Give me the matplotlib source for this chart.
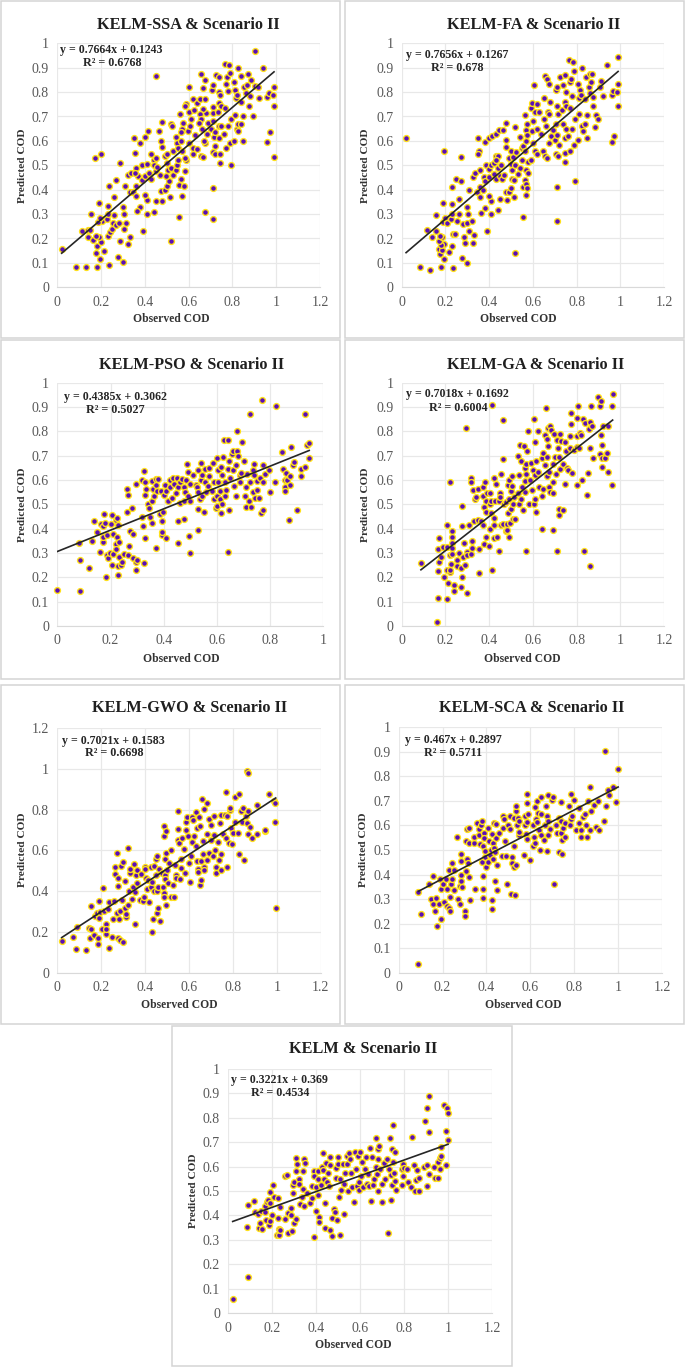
import matplotlib
matplotlib.use("Agg")
import matplotlib.pyplot as plt
from matplotlib.patches import Rectangle
from matplotlib.ticker import MultipleLocator, FormatStrFormatter

W, H = 685, 1367

ssa_pts = [(0.02,0.155),(0.085,0.083),(0.13,0.082),(0.18,0.082),(0.235,0.09),(0.275,0.125),(0.3,0.105),(0.195,0.118),(0.175,0.14),(0.215,0.148),(0.18,0.17),(0.285,0.188),(0.2,0.187),(0.325,0.177),(0.33,0.208),(0.115,0.23),(0.14,0.235),(0.15,0.235),(0.14,0.205),(0.165,0.193),(0.19,0.205),(0.175,0.212),(0.23,0.21),(0.24,0.228),(0.25,0.24),(0.255,0.262),(0.27,0.255),(0.28,0.262),(0.305,0.24),(0.315,0.263),(0.205,0.27),(0.185,0.268),(0.195,0.285),(0.225,0.28),(0.155,0.3),(0.23,0.3),(0.23,0.335),(0.19,0.345),(0.26,0.295),(0.3,0.33),(0.305,0.3),(0.26,0.37),(0.235,0.415),(0.27,0.44),(0.17,0.53),(0.2,0.545),(0.285,0.51),(0.31,0.415),(0.325,0.46),(0.335,0.47),(0.33,0.39),(0.345,0.39),(0.36,0.375),(0.36,0.415),(0.37,0.455),(0.36,0.49),(0.355,0.47),(0.38,0.33),(0.365,0.313),(0.39,0.232),(0.41,0.3),(0.44,0.31),(0.41,0.357),(0.45,0.355),(0.4,0.38),(0.48,0.355),(0.385,0.44),(0.4,0.455),(0.385,0.5),(0.41,0.505),(0.43,0.545),(0.44,0.52),(0.45,0.53),(0.42,0.47),(0.43,0.445),(0.45,0.475),(0.44,0.5),(0.455,0.495),(0.47,0.46),(0.475,0.395),(0.49,0.4),(0.5,0.415),(0.51,0.435),(0.515,0.372),(0.555,0.288),(0.52,0.19),(0.35,0.61),(0.355,0.55),(0.38,0.59),(0.4,0.615),(0.415,0.64),(0.465,0.64),(0.48,0.677),(0.475,0.6),(0.48,0.575),(0.45,0.865),(0.49,0.54),(0.5,0.545),(0.5,0.51),(0.505,0.48),(0.495,0.455),(0.52,0.49),(0.53,0.46),(0.54,0.48),(0.545,0.5),(0.53,0.56),(0.52,0.67),(0.525,0.66),(0.54,0.618),(0.545,0.59),(0.55,0.57),(0.55,0.52),(0.555,0.42),(0.57,0.375),(0.565,0.445),(0.58,0.415),(0.585,0.478),(0.59,0.52),(0.585,0.53),(0.57,0.56),(0.565,0.6),(0.57,0.65),(0.56,0.71),(0.575,0.675),(0.565,0.635),(0.59,0.75),(0.585,0.745),(0.6,0.82),(0.6,0.72),(0.595,0.64),(0.6,0.59),(0.605,0.66),(0.61,0.69),(0.62,0.545),(0.62,0.57),(0.625,0.725),(0.62,0.77),(0.64,0.755),(0.65,0.77),(0.655,0.875),(0.665,0.815),(0.675,0.848),(0.675,0.77),(0.68,0.715),(0.665,0.73),(0.65,0.71),(0.655,0.69),(0.645,0.675),(0.63,0.625),(0.64,0.565),(0.655,0.54),(0.665,0.535),(0.66,0.65),(0.675,0.59),(0.685,0.63),(0.69,0.675),(0.67,0.6),(0.7,0.65),(0.71,0.68),(0.71,0.555),(0.715,0.615),(0.72,0.58),(0.72,0.545),(0.71,0.405),(0.675,0.31),(0.71,0.28),(0.705,0.81),(0.71,0.83),(0.71,0.74),(0.71,0.715),(0.72,0.635),(0.725,0.87),(0.735,0.72),(0.74,0.86),(0.74,0.8),(0.745,0.79),(0.74,0.755),(0.75,0.745),(0.74,0.66),(0.75,0.66),(0.74,0.61),(0.745,0.548),(0.745,0.51),(0.76,0.63),(0.765,0.915),(0.765,0.735),(0.77,0.57),(0.77,0.835),(0.775,0.86),(0.78,0.805),(0.785,0.91),(0.79,0.88),(0.78,0.66),(0.79,0.59),(0.795,0.69),(0.795,0.5),(0.805,0.6),(0.81,0.705),(0.805,0.84),(0.81,0.81),(0.815,0.775),(0.82,0.79),(0.82,0.65),(0.825,0.64),(0.825,0.67),(0.825,0.9),(0.84,0.76),(0.84,0.865),(0.84,0.67),(0.85,0.6),(0.85,0.7),(0.855,0.82),(0.86,0.795),(0.865,0.83),(0.87,0.875),(0.875,0.745),(0.88,0.785),(0.885,0.85),(0.895,0.7),(0.905,0.97),(0.905,0.825),(0.915,0.82),(0.92,0.775),(0.94,0.9),(0.96,0.595),(0.96,0.78),(0.97,0.635),(0.965,0.795),(0.985,0.79),(0.99,0.82),(0.99,0.745),(0.99,0.535)]

fa_pts = [(0.02,0.61),(0.085,0.083),(0.13,0.072),(0.18,0.083),(0.235,0.08),(0.275,0.122),(0.3,0.1),(0.195,0.118),(0.175,0.135),(0.17,0.155),(0.185,0.153),(0.215,0.143),(0.23,0.17),(0.195,0.178),(0.18,0.175),(0.17,0.19),(0.185,0.208),(0.175,0.21),(0.14,0.208),(0.115,0.235),(0.155,0.232),(0.19,0.268),(0.2,0.282),(0.205,0.265),(0.225,0.278),(0.23,0.3),(0.155,0.297),(0.19,0.347),(0.23,0.34),(0.26,0.36),(0.26,0.3),(0.255,0.27),(0.28,0.26),(0.3,0.265),(0.3,0.33),(0.305,0.3),(0.32,0.27),(0.31,0.232),(0.33,0.213),(0.285,0.205),(0.29,0.183),(0.325,0.18),(0.235,0.218),(0.245,0.22),(0.232,0.413),(0.248,0.445),(0.27,0.437),(0.195,0.56),(0.27,0.533),(0.31,0.4),(0.325,0.45),(0.335,0.47),(0.345,0.39),(0.36,0.41),(0.36,0.372),(0.37,0.4),(0.365,0.305),(0.38,0.325),(0.39,0.23),(0.41,0.3),(0.44,0.317),(0.41,0.355),(0.45,0.36),(0.4,0.375),(0.48,0.358),(0.475,0.39),(0.49,0.39),(0.5,0.405),(0.515,0.37),(0.555,0.287),(0.52,0.142),(0.35,0.61),(0.355,0.56),(0.35,0.545),(0.36,0.48),(0.38,0.595),(0.4,0.61),(0.415,0.62),(0.43,0.63),(0.445,0.645),(0.465,0.645),(0.478,0.672),(0.475,0.605),(0.478,0.575),(0.375,0.45),(0.38,0.435),(0.4,0.45),(0.385,0.5),(0.4,0.485),(0.41,0.5),(0.42,0.51),(0.43,0.54),(0.44,0.54),(0.43,0.52),(0.42,0.465),(0.43,0.445),(0.45,0.455),(0.44,0.49),(0.455,0.5),(0.46,0.445),(0.47,0.46),(0.49,0.53),(0.5,0.56),(0.5,0.505),(0.505,0.48),(0.505,0.445),(0.515,0.44),(0.51,0.535),(0.52,0.5),(0.53,0.465),(0.54,0.49),(0.525,0.555),(0.52,0.658),(0.54,0.615),(0.55,0.57),(0.55,0.52),(0.555,0.58),(0.555,0.41),(0.565,0.44),(0.57,0.425),(0.57,0.38),(0.575,0.405),(0.57,0.48),(0.58,0.47),(0.58,0.515),(0.59,0.52),(0.565,0.56),(0.57,0.6),(0.565,0.705),(0.57,0.645),(0.575,0.67),(0.575,0.625),(0.59,0.735),(0.595,0.757),(0.605,0.83),(0.6,0.68),(0.595,0.64),(0.6,0.59),(0.61,0.72),(0.62,0.65),(0.62,0.75),(0.63,0.72),(0.635,0.63),(0.61,0.56),(0.62,0.547),(0.645,0.56),(0.65,0.775),(0.65,0.69),(0.655,0.865),(0.665,0.855),(0.67,0.72),(0.655,0.54),(0.665,0.53),(0.66,0.66),(0.675,0.835),(0.68,0.76),(0.675,0.71),(0.675,0.59),(0.685,0.62),(0.69,0.645),(0.7,0.605),(0.705,0.67),(0.705,0.545),(0.71,0.625),(0.715,0.54),(0.72,0.585),(0.71,0.745),(0.715,0.71),(0.712,0.413),(0.712,0.27),(0.705,0.81),(0.71,0.82),(0.725,0.86),(0.735,0.725),(0.74,0.83),(0.745,0.87),(0.745,0.76),(0.75,0.8),(0.75,0.745),(0.74,0.67),(0.75,0.65),(0.745,0.61),(0.745,0.55),(0.748,0.513),(0.76,0.62),(0.765,0.93),(0.77,0.735),(0.77,0.56),(0.77,0.84),(0.775,0.855),(0.78,0.785),(0.785,0.925),(0.79,0.885),(0.78,0.65),(0.79,0.585),(0.795,0.69),(0.795,0.437),(0.805,0.605),(0.81,0.71),(0.805,0.835),(0.81,0.775),(0.815,0.81),(0.82,0.79),(0.825,0.66),(0.83,0.64),(0.825,0.9),(0.84,0.67),(0.84,0.77),(0.845,0.86),(0.85,0.61),(0.85,0.705),(0.855,0.82),(0.86,0.795),(0.86,0.875),(0.865,0.84),(0.87,0.875),(0.875,0.745),(0.875,0.78),(0.885,0.655),(0.89,0.705),(0.9,0.69),(0.905,0.82),(0.91,0.845),(0.92,0.785),(0.94,0.91),(0.96,0.597),(0.96,0.79),(0.97,0.62),(0.965,0.805),(0.985,0.8),(0.99,0.835),(0.99,0.745),(0.99,0.945)]

pso_pts = [(0,0.148),(0.087,0.145),(0.087,0.27),(0.083,0.342),(0.12,0.24),(0.13,0.35),(0.137,0.432),(0.15,0.385),(0.16,0.305),(0.165,0.42),(0.17,0.345),(0.17,0.41),(0.17,0.365),(0.175,0.46),(0.18,0.425),(0.185,0.375),(0.183,0.203),(0.185,0.29),(0.19,0.28),(0.197,0.3),(0.2,0.42),(0.205,0.25),(0.205,0.455),(0.21,0.38),(0.21,0.295),(0.22,0.335),(0.22,0.315),(0.22,0.435),(0.225,0.365),(0.225,0.445),(0.228,0.208),(0.23,0.248),(0.23,0.415),(0.232,0.345),(0.232,0.285),(0.24,0.25),(0.245,0.265),(0.25,0.295),(0.262,0.565),(0.262,0.47),(0.265,0.29),(0.265,0.54),(0.27,0.33),(0.275,0.39),(0.28,0.483),(0.285,0.28),(0.285,0.38),(0.295,0.23),(0.295,0.265),(0.3,0.272),(0.295,0.585),(0.32,0.6),(0.32,0.447),(0.322,0.41),(0.325,0.26),(0.33,0.36),(0.327,0.638),(0.33,0.59),(0.33,0.537),(0.335,0.565),(0.34,0.5),(0.345,0.487),(0.35,0.45),(0.355,0.595),(0.355,0.515),(0.355,0.425),(0.36,0.565),(0.365,0.535),(0.37,0.32),(0.37,0.605),(0.37,0.58),(0.375,0.555),(0.38,0.603),(0.385,0.46),(0.39,0.555),(0.395,0.375),(0.395,0.387),(0.395,0.43),(0.398,0.47),(0.4,0.54),(0.405,0.58),(0.41,0.555),(0.41,0.36),(0.415,0.515),(0.425,0.6),(0.425,0.57),(0.43,0.525),(0.435,0.61),(0.44,0.585),(0.445,0.545),(0.45,0.61),(0.452,0.43),(0.455,0.34),(0.455,0.57),(0.46,0.59),(0.46,0.505),(0.47,0.605),(0.475,0.515),(0.475,0.57),(0.476,0.44),(0.48,0.55),(0.485,0.6),(0.487,0.665),(0.49,0.635),(0.49,0.535),(0.495,0.37),(0.497,0.298),(0.5,0.585),(0.5,0.515),(0.51,0.62),(0.52,0.58),(0.525,0.57),(0.53,0.48),(0.53,0.393),(0.53,0.55),(0.53,0.64),(0.535,0.52),(0.54,0.67),(0.54,0.6),(0.545,0.62),(0.545,0.535),(0.552,0.47),(0.555,0.59),(0.555,0.645),(0.56,0.55),(0.565,0.575),(0.57,0.615),(0.57,0.65),(0.58,0.555),(0.585,0.67),(0.59,0.52),(0.59,0.59),(0.595,0.485),(0.6,0.69),(0.6,0.535),(0.6,0.495),(0.605,0.64),(0.605,0.59),(0.61,0.555),(0.61,0.52),(0.615,0.655),(0.615,0.465),(0.62,0.62),(0.62,0.5),(0.622,0.695),(0.625,0.765),(0.63,0.59),(0.63,0.535),(0.635,0.56),(0.64,0.765),(0.64,0.645),(0.643,0.303),(0.645,0.68),(0.645,0.477),(0.65,0.61),(0.655,0.705),(0.66,0.72),(0.66,0.64),(0.665,0.575),(0.67,0.66),(0.67,0.535),(0.675,0.8),(0.675,0.72),(0.68,0.7),(0.685,0.62),(0.685,0.59),(0.69,0.63),(0.695,0.755),(0.7,0.678),(0.705,0.535),(0.71,0.57),(0.71,0.49),(0.715,0.625),(0.72,0.515),(0.725,0.59),(0.725,0.87),(0.73,0.49),(0.735,0.55),(0.735,0.64),(0.74,0.665),(0.74,0.62),(0.745,0.525),(0.75,0.595),(0.75,0.56),(0.762,0.61),(0.76,0.525),(0.765,0.465),(0.77,0.93),(0.775,0.59),(0.775,0.477),(0.775,0.66),(0.78,0.625),(0.795,0.64),(0.8,0.55),(0.82,0.59),(0.822,0.905),(0.845,0.715),(0.85,0.645),(0.855,0.6),(0.855,0.57),(0.855,0.555),(0.86,0.63),(0.865,0.6),(0.87,0.437),(0.873,0.58),(0.875,0.615),(0.88,0.735),(0.885,0.66),(0.89,0.675),(0.9,0.475),(0.915,0.645),(0.917,0.615),(0.93,0.655),(0.933,0.87),(0.94,0.745),(0.945,0.69),(0.947,0.752)]

ga_pts = [(0.088,0.258),(0.163,0.015),(0.167,0.315),(0.168,0.225),(0.168,0.115),(0.17,0.363),(0.172,0.262),(0.18,0.285),(0.19,0.325),(0.195,0.2),(0.205,0.23),(0.205,0.325),(0.205,0.417),(0.208,0.113),(0.213,0.178),(0.22,0.22),(0.22,0.29),(0.222,0.232),(0.223,0.59),(0.225,0.255),(0.228,0.39),(0.228,0.365),(0.228,0.34),(0.23,0.32),(0.232,0.295),(0.24,0.17),(0.24,0.145),(0.255,0.27),(0.255,0.245),(0.26,0.3),(0.27,0.24),(0.272,0.16),(0.275,0.2),(0.28,0.282),(0.278,0.41),(0.278,0.493),(0.285,0.34),(0.29,0.25),(0.293,0.815),(0.297,0.135),(0.297,0.305),(0.3,0.29),(0.31,0.415),(0.315,0.295),(0.315,0.61),(0.318,0.59),(0.32,0.35),(0.32,0.32),(0.325,0.56),(0.33,0.43),(0.335,0.52),(0.34,0.53),(0.35,0.565),(0.35,0.435),(0.353,0.218),(0.353,0.317),(0.365,0.43),(0.37,0.535),(0.37,0.415),(0.37,0.57),(0.375,0.335),(0.375,0.49),(0.38,0.59),(0.385,0.515),(0.385,0.47),(0.385,0.365),(0.39,0.545),(0.4,0.33),(0.405,0.4),(0.405,0.545),(0.405,0.5),(0.41,0.465),(0.41,0.515),(0.413,0.91),(0.415,0.232),(0.42,0.36),(0.42,0.445),(0.42,0.415),(0.42,0.61),(0.425,0.515),(0.43,0.585),(0.435,0.365),(0.445,0.515),(0.447,0.31),(0.45,0.545),(0.452,0.53),(0.455,0.625),(0.455,0.415),(0.463,0.845),(0.465,0.685),(0.465,0.42),(0.47,0.5),(0.475,0.51),(0.475,0.39),(0.48,0.395),(0.48,0.42),(0.485,0.465),(0.488,0.58),(0.49,0.6),(0.49,0.52),(0.493,0.365),(0.495,0.425),(0.5,0.48),(0.5,0.555),(0.505,0.615),(0.505,0.575),(0.51,0.44),(0.51,0.5),(0.515,0.53),(0.52,0.44),(0.53,0.7),(0.53,0.545),(0.535,0.62),(0.535,0.5),(0.54,0.745),(0.545,0.68),(0.545,0.52),(0.55,0.57),(0.553,0.475),(0.56,0.74),(0.565,0.65),(0.565,0.595),(0.565,0.55),(0.57,0.31),(0.57,0.665),(0.57,0.625),(0.575,0.72),(0.58,0.8),(0.582,0.5),(0.585,0.6),(0.59,0.67),(0.595,0.56),(0.6,0.64),(0.605,0.5),(0.607,0.85),(0.61,0.755),(0.61,0.62),(0.612,0.52),(0.615,0.68),(0.615,0.47),(0.625,0.635),(0.625,0.8),(0.63,0.57),(0.64,0.69),(0.64,0.535),(0.64,0.4),(0.645,0.71),(0.648,0.565),(0.655,0.785),(0.655,0.66),(0.66,0.895),(0.665,0.695),(0.665,0.615),(0.665,0.77),(0.67,0.815),(0.67,0.74),(0.672,0.57),(0.675,0.635),(0.68,0.82),(0.68,0.55),(0.685,0.805),(0.69,0.665),(0.69,0.59),(0.69,0.545),(0.69,0.395),(0.695,0.79),(0.7,0.695),(0.705,0.625),(0.71,0.765),(0.712,0.31),(0.715,0.73),(0.72,0.695),(0.72,0.455),(0.72,0.48),(0.725,0.79),(0.725,0.645),(0.73,0.76),(0.74,0.665),(0.74,0.475),(0.745,0.755),(0.745,0.585),(0.75,0.72),(0.755,0.65),(0.76,0.64),(0.77,0.73),(0.77,0.78),(0.775,0.875),(0.775,0.83),(0.78,0.63),(0.79,0.725),(0.8,0.855),(0.8,0.78),(0.8,0.735),(0.8,0.58),(0.805,0.905),(0.81,0.73),(0.815,0.795),(0.82,0.785),(0.825,0.6),(0.83,0.85),(0.84,0.835),(0.836,0.31),(0.85,0.54),(0.853,0.63),(0.855,0.81),(0.86,0.84),(0.863,0.73),(0.863,0.245),(0.865,0.905),(0.87,0.82),(0.875,0.69),(0.9,0.94),(0.905,0.905),(0.908,0.705),(0.91,0.925),(0.91,0.785),(0.915,0.745),(0.915,0.69),(0.915,0.655),(0.92,0.82),(0.93,0.69),(0.94,0.71),(0.945,0.635),(0.945,0.82),(0.96,0.578),(0.96,0.905),(0.965,0.955)]

gwo_pts = [(0.02,0.155),(0.07,0.177),(0.085,0.115),(0.09,0.222),(0.13,0.11),(0.145,0.22),(0.15,0.17),(0.155,0.215),(0.155,0.325),(0.165,0.183),(0.17,0.28),(0.18,0.295),(0.185,0.14),(0.185,0.17),(0.19,0.27),(0.19,0.35),(0.195,0.3),(0.205,0.215),(0.208,0.417),(0.215,0.305),(0.22,0.19),(0.22,0.24),(0.222,0.215),(0.23,0.31),(0.235,0.12),(0.235,0.345),(0.25,0.175),(0.255,0.265),(0.26,0.35),(0.265,0.485),(0.265,0.52),(0.27,0.585),(0.27,0.295),(0.275,0.465),(0.275,0.17),(0.275,0.425),(0.28,0.265),(0.285,0.305),(0.285,0.16),(0.29,0.525),(0.295,0.355),(0.3,0.15),(0.3,0.545),(0.31,0.315),(0.31,0.45),(0.315,0.275),(0.315,0.29),(0.32,0.61),(0.32,0.33),(0.325,0.4),(0.33,0.49),(0.33,0.51),(0.34,0.36),(0.345,0.42),(0.35,0.535),(0.355,0.395),(0.355,0.24),(0.36,0.48),(0.365,0.44),(0.365,0.505),(0.375,0.355),(0.38,0.485),(0.39,0.35),(0.395,0.37),(0.4,0.52),(0.4,0.51),(0.405,0.465),(0.41,0.41),(0.415,0.455),(0.42,0.345),(0.425,0.52),(0.425,0.42),(0.43,0.2),(0.43,0.445),(0.435,0.265),(0.44,0.525),(0.44,0.4),(0.45,0.56),(0.45,0.48),(0.455,0.57),(0.455,0.295),(0.455,0.4),(0.46,0.42),(0.46,0.315),(0.465,0.51),(0.47,0.255),(0.475,0.49),(0.48,0.42),(0.485,0.39),(0.485,0.37),(0.487,0.72),(0.487,0.67),(0.49,0.48),(0.49,0.46),(0.49,0.56),(0.495,0.585),(0.495,0.33),(0.497,0.695),(0.5,0.505),(0.505,0.44),(0.51,0.54),(0.52,0.6),(0.52,0.37),(0.525,0.43),(0.53,0.37),(0.535,0.53),(0.54,0.48),(0.54,0.465),(0.55,0.705),(0.55,0.65),(0.55,0.795),(0.555,0.635),(0.56,0.46),(0.565,0.56),(0.565,0.515),(0.57,0.66),(0.575,0.605),(0.58,0.49),(0.585,0.74),(0.585,0.7),(0.59,0.765),(0.595,0.67),(0.6,0.54),(0.605,0.445),(0.61,0.57),(0.615,0.765),(0.615,0.64),(0.62,0.75),(0.625,0.67),(0.63,0.79),(0.63,0.62),(0.635,0.71),(0.635,0.55),(0.64,0.51),(0.64,0.495),(0.645,0.765),(0.648,0.72),(0.65,0.43),(0.655,0.55),(0.655,0.455),(0.66,0.85),(0.665,0.645),(0.665,0.58),(0.67,0.805),(0.67,0.52),(0.67,0.505),(0.68,0.83),(0.68,0.68),(0.68,0.555),(0.69,0.755),(0.69,0.585),(0.7,0.65),(0.7,0.725),(0.71,0.57),(0.715,0.77),(0.715,0.675),(0.72,0.6),(0.725,0.52),(0.725,0.49),(0.73,0.64),(0.735,0.555),(0.74,0.735),(0.745,0.775),(0.745,0.58),(0.745,0.505),(0.755,0.68),(0.765,0.775),(0.77,0.66),(0.77,0.885),(0.775,0.77),(0.775,0.52),(0.78,0.635),(0.785,0.8),(0.785,0.81),(0.79,0.71),(0.795,0.63),(0.8,0.685),(0.81,0.86),(0.81,0.74),(0.83,0.875),(0.825,0.685),(0.83,0.58),(0.835,0.795),(0.84,0.74),(0.845,0.81),(0.85,0.555),(0.86,0.77),(0.865,0.735),(0.865,0.99),(0.87,0.98),(0.87,0.795),(0.87,0.68),(0.88,0.715),(0.885,0.66),(0.91,0.82),(0.91,0.68),(0.945,0.695),(0.945,0.7),(0.965,0.875),(0.985,0.84),(0.99,0.83),(0.99,0.74),(0.995,0.315)]

sca_pts = [(0.09,0.33),(0.09,0.035),(0.1,0.24),(0.14,0.36),(0.145,0.3),(0.155,0.28),(0.155,0.395),(0.165,0.25),(0.17,0.305),(0.173,0.19),(0.185,0.28),(0.19,0.38),(0.195,0.34),(0.195,0.22),(0.2,0.36),(0.205,0.29),(0.215,0.38),(0.22,0.34),(0.22,0.27),(0.23,0.42),(0.23,0.265),(0.235,0.25),(0.235,0.31),(0.24,0.36),(0.245,0.38),(0.245,0.445),(0.25,0.42),(0.25,0.335),(0.265,0.555),(0.27,0.3),(0.28,0.355),(0.28,0.28),(0.285,0.4),(0.285,0.375),(0.285,0.455),(0.285,0.485),(0.29,0.35),(0.3,0.25),(0.3,0.23),(0.31,0.585),(0.305,0.535),(0.305,0.415),(0.31,0.465),(0.315,0.445),(0.32,0.53),(0.32,0.39),(0.32,0.59),(0.325,0.295),(0.345,0.53),(0.345,0.555),(0.35,0.34),(0.355,0.61),(0.365,0.56),(0.365,0.585),(0.37,0.525),(0.375,0.6),(0.38,0.62),(0.38,0.45),(0.385,0.515),(0.385,0.395),(0.385,0.34),(0.385,0.305),(0.39,0.57),(0.39,0.55),(0.395,0.47),(0.395,0.495),(0.4,0.43),(0.405,0.45),(0.405,0.59),(0.41,0.535),(0.415,0.48),(0.42,0.5),(0.425,0.565),(0.425,0.295),(0.425,0.26),(0.43,0.465),(0.43,0.53),(0.435,0.51),(0.435,0.61),(0.44,0.375),(0.44,0.49),(0.445,0.605),(0.445,0.55),(0.45,0.44),(0.45,0.335),(0.455,0.57),(0.47,0.475),(0.475,0.59),(0.475,0.64),(0.48,0.625),(0.485,0.535),(0.49,0.475),(0.495,0.36),(0.5,0.6),(0.505,0.585),(0.505,0.64),(0.51,0.32),(0.515,0.47),(0.515,0.445),(0.525,0.63),(0.525,0.515),(0.525,0.43),(0.53,0.315),(0.535,0.44),(0.535,0.66),(0.535,0.68),(0.54,0.6),(0.545,0.63),(0.55,0.56),(0.55,0.575),(0.55,0.62),(0.57,0.48),(0.575,0.64),(0.575,0.6),(0.58,0.565),(0.585,0.545),(0.585,0.615),(0.585,0.73),(0.585,0.69),(0.59,0.645),(0.6,0.46),(0.61,0.515),(0.61,0.6),(0.615,0.555),(0.62,0.675),(0.62,0.53),(0.625,0.625),(0.63,0.615),(0.63,0.7),(0.635,0.65),(0.64,0.58),(0.645,0.5),(0.65,0.715),(0.65,0.56),(0.65,0.645),(0.66,0.54),(0.665,0.6),(0.67,0.68),(0.675,0.495),(0.675,0.64),(0.68,0.62),(0.68,0.56),(0.68,0.725),(0.69,0.585),(0.7,0.705),(0.705,0.715),(0.71,0.36),(0.715,0.6),(0.72,0.57),(0.73,0.63),(0.73,0.49),(0.74,0.695),(0.74,0.57),(0.745,0.54),(0.745,0.485),(0.74,0.62),(0.75,0.59),(0.76,0.555),(0.76,0.61),(0.775,0.68),(0.78,0.6),(0.785,0.625),(0.785,0.73),(0.79,0.64),(0.8,0.705),(0.81,0.58),(0.82,0.61),(0.82,0.67),(0.83,0.555),(0.83,0.58),(0.84,0.635),(0.85,0.645),(0.855,0.6),(0.86,0.555),(0.865,0.7),(0.87,0.755),(0.87,0.58),(0.875,0.66),(0.89,0.685),(0.9,0.595),(0.91,0.7),(0.915,0.58),(0.935,0.62),(0.94,0.905),(0.945,0.68),(0.955,0.745),(0.96,0.725),(0.975,0.755),(0.99,0.695),(1.0,0.83)]

kelm_pts = [(0.02,0.058),(0.09,0.148),(0.087,0.352),(0.09,0.443),(0.115,0.46),(0.12,0.415),(0.135,0.405),(0.14,0.35),(0.145,0.37),(0.15,0.42),(0.155,0.345),(0.165,0.415),(0.165,0.44),(0.17,0.38),(0.175,0.455),(0.18,0.465),(0.185,0.36),(0.19,0.378),(0.19,0.495),(0.19,0.45),(0.2,0.4),(0.205,0.525),(0.21,0.475),(0.22,0.32),(0.225,0.39),(0.225,0.47),(0.23,0.345),(0.23,0.32),(0.235,0.435),(0.235,0.34),(0.26,0.56),(0.26,0.385),(0.265,0.565),(0.27,0.33),(0.27,0.41),(0.285,0.43),(0.285,0.4),(0.29,0.335),(0.295,0.49),(0.295,0.525),(0.3,0.37),(0.3,0.535),(0.31,0.385),(0.31,0.58),(0.31,0.635),(0.313,0.61),(0.32,0.55),(0.32,0.53),(0.325,0.445),(0.335,0.475),(0.34,0.51),(0.34,0.58),(0.345,0.44),(0.345,0.63),(0.35,0.615),(0.36,0.49),(0.37,0.45),(0.38,0.52),(0.38,0.47),(0.39,0.58),(0.39,0.56),(0.39,0.31),(0.4,0.515),(0.4,0.42),(0.41,0.485),(0.41,0.55),(0.41,0.58),(0.415,0.395),(0.415,0.375),(0.42,0.525),(0.425,0.6),(0.43,0.585),(0.43,0.655),(0.435,0.55),(0.44,0.35),(0.44,0.45),(0.445,0.615),(0.45,0.535),(0.455,0.575),(0.46,0.52),(0.465,0.64),(0.465,0.605),(0.465,0.34),(0.47,0.315),(0.47,0.39),(0.48,0.425),(0.485,0.415),(0.49,0.555),(0.49,0.595),(0.495,0.38),(0.5,0.64),(0.5,0.61),(0.505,0.475),(0.51,0.32),(0.51,0.55),(0.515,0.505),(0.52,0.61),(0.525,0.405),(0.525,0.53),(0.53,0.575),(0.54,0.645),(0.54,0.61),(0.545,0.5),(0.55,0.655),(0.555,0.63),(0.56,0.575),(0.565,0.515),(0.57,0.455),(0.575,0.66),(0.58,0.59),(0.585,0.52),(0.59,0.645),(0.595,0.505),(0.595,0.535),(0.6,0.66),(0.605,0.56),(0.61,0.62),(0.615,0.515),(0.62,0.59),(0.625,0.64),(0.63,0.53),(0.635,0.57),(0.64,0.52),(0.645,0.675),(0.65,0.46),(0.655,0.64),(0.66,0.525),(0.665,0.55),(0.67,0.6),(0.67,0.715),(0.675,0.57),(0.68,0.67),(0.68,0.63),(0.68,0.5),(0.685,0.685),(0.69,0.59),(0.7,0.53),(0.7,0.455),(0.71,0.615),(0.715,0.55),(0.72,0.63),(0.725,0.33),(0.73,0.59),(0.735,0.715),(0.74,0.565),(0.74,0.465),(0.745,0.67),(0.745,0.525),(0.75,0.62),(0.75,0.77),(0.755,0.575),(0.76,0.54),(0.76,0.66),(0.765,0.505),(0.79,0.59),(0.79,0.525),(0.795,0.61),(0.795,0.56),(0.8,0.595),(0.815,0.59),(0.82,0.535),(0.83,0.515),(0.835,0.72),(0.845,0.605),(0.85,0.5),(0.855,0.545),(0.86,0.585),(0.87,0.555),(0.87,0.5),(0.89,0.6),(0.895,0.785),(0.905,0.84),(0.905,0.52),(0.905,0.605),(0.915,0.89),(0.915,0.74),(0.915,0.57),(0.935,0.6),(0.94,0.555),(0.955,0.555),(0.955,0.62),(0.965,0.59),(0.965,0.635),(0.97,0.645),(0.97,0.68),(0.98,0.85),(0.99,0.745),(0.99,0.605),(0.995,0.84),(1.0,0.82),(1.0,0.71)]

all_pts = [ssa_pts, fa_pts, pso_pts, ga_pts, gwo_pts, sca_pts, kelm_pts]
titles = ["KELM-SSA & Scenario II", "KELM-FA & Scenario II", "KELM-PSO & Scenario II",
          "KELM-GA & Scenario II", "KELM-GWO & Scenario II", "KELM-SCA & Scenario II",
          "KELM & Scenario II"]
slopes = [0.7664, 0.7656, 0.4385, 0.7018, 0.7021, 0.467, 0.3221]
intercepts = [0.1243, 0.1267, 0.3062, 0.1692, 0.1583, 0.2897, 0.369]
eq_text = ["y = 0.7664x + 0.1243", "y = 0.7656x + 0.1267", "y = 0.4385x + 0.3062",
           "y = 0.7018x + 0.1692", "y = 0.7021x + 0.1583", "y = 0.467x + 0.2897",
           "y = 0.3221x + 0.369"]
r2_text = ["R² = 0.6768", "R² = 0.678", "R² = 0.5027", "R² = 0.6004", "R² = 0.6698",
           "R² = 0.5711", "R² = 0.4534"]
x_max = [1.2, 1.2, 1, 1.2, 1.2, 1.2, 1.2]
y_max = [1, 1, 1, 1, 1.2, 1, 1]
y_step = [0.1, 0.1, 0.1, 0.1, 0.2, 0.1, 0.1]

# everything below is in pixels of the 685x1367 page
frames = [(1, 1, 340, 338), (345, 1, 684, 338), (1, 340, 340, 679), (345, 340, 684, 679),
          (1, 685, 340, 1024), (345, 685, 684, 1024), (172, 1026, 512, 1366)]
axes_box = [(57.3, 43.3, 320, 287.3), (401.7, 43.3, 664, 287.3), (57.3, 382.7, 323.3, 626),
            (401.7, 382.7, 664, 626), (57.3, 728, 320.7, 972.7), (398.7, 727.3, 662, 972.7),
            (228.3, 1068.7, 492, 1313.3)]
title_xy = [(188, 24.7), (533.3, 24.7), (191.7, 364.7), (535.3, 364.7), (189.3, 708), (532, 708), (362.7, 1049.3)]
xlabel_xy = [(171, 319), (518.7, 319), (181.7, 658.7), (522.3, 658.7), (179, 1004.7), (523.3, 1004.7), (353.3, 1345.3)]
ylabel_xy = [(22.7, 165.7), (366, 165.7), (22.7, 505), (366, 505), (22.7, 849.7), (363.7, 849.7), (194, 1190.7)]
eq_xy = [(60, 50), (405.7, 55), (63.7, 396.7), (405.7, 394.3), (61.7, 740.7), (405, 740), (231.3, 1080)]
r2_xy = [(82.7, 63.3), (431.3, 68.3), (86, 410), (428.7, 407.7), (84.7, 753.3), (424.3, 753.3), (251, 1093.3)]

SERIF = "Liberation Serif"


def fx(px):
    return px / W


def fy(py):
    return 1 - py / H


fig = plt.figure(figsize=(W / 100, H / 100), dpi=100, facecolor="white")

for i in range(7):
    l, t, r, b = frames[i]
    fig.add_artist(Rectangle((fx(l), fy(b)), (r - l) / W, (b - t) / H, transform=fig.transFigure,
                             fill=False, edgecolor="#D4D4D4", linewidth=1.1))

    l, t, r, b = axes_box[i]
    ax = fig.add_axes([fx(l), fy(b), (r - l) / W, (b - t) / H])
    xs = [p[0] for p in all_pts[i]]
    ys = [p[1] for p in all_pts[i]]
    ax.scatter(xs, ys, s=18, c="#5A0FB5", edgecolors="#FFE11A", linewidths=1.0, zorder=3, clip_on=False)
    x_ends = [min(xs), max(xs)]
    ax.plot(x_ends, [slopes[i] * v + intercepts[i] for v in x_ends], color="#262626", lw=1.2, zorder=4)

    ax.set_xlim(0, x_max[i])
    ax.set_ylim(0, y_max[i])
    ax.xaxis.set_major_locator(MultipleLocator(0.2))
    ax.yaxis.set_major_locator(MultipleLocator(y_step[i]))
    ax.xaxis.set_major_formatter(FormatStrFormatter("%g"))
    ax.yaxis.set_major_formatter(FormatStrFormatter("%g"))
    ax.grid(True, color="#E8E8E8", lw=0.9)
    ax.set_axisbelow(True)
    for s in ["top", "right", "left"]:
        ax.spines[s].set_visible(False)
    ax.spines["bottom"].set_color("#D9D9D9")
    ax.tick_params(length=0, labelsize=10, labelcolor="#595959", pad=6)
    for lab in ax.get_xticklabels() + ax.get_yticklabels():
        lab.set_family(SERIF)

    fig.text(fx(title_xy[i][0]), fy(title_xy[i][1]), titles[i], family=SERIF, weight="bold",
             fontsize=11.7, color="#1F1F1F", ha="center", va="center")
    fig.text(fx(xlabel_xy[i][0]), fy(xlabel_xy[i][1]), "Observed COD", family=SERIF, weight="bold",
             fontsize=8.4, color="#333333", ha="center", va="center")
    fig.text(fx(ylabel_xy[i][0]), fy(ylabel_xy[i][1]), "Predicted COD", family=SERIF, weight="bold",
             fontsize=8.2, color="#333333", ha="center", va="center", rotation=90)
    fig.text(fx(eq_xy[i][0]), fy(eq_xy[i][1]), eq_text[i], family=SERIF, weight="bold",
             fontsize=8.6, color="#262626", ha="left", va="center")
    fig.text(fx(r2_xy[i][0]), fy(r2_xy[i][1]), r2_text[i], family=SERIF, weight="bold",
             fontsize=8.7, color="#262626", ha="left", va="center")

fig.savefig("out.png", dpi=100)
